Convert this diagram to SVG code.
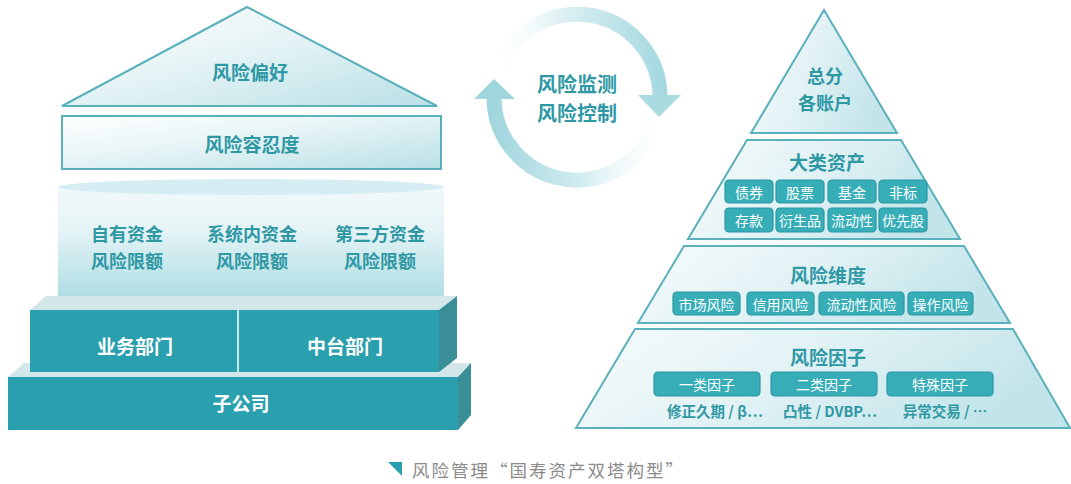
<svg xmlns="http://www.w3.org/2000/svg" width="1071" height="484" viewBox="0 0 1071 484">
<defs>
<linearGradient id="gLight" x1="0" y1="0" x2="1" y2="1">
<stop offset="0" stop-color="#ffffff"/>
<stop offset="0.45" stop-color="#e6f4f6"/>
<stop offset="1" stop-color="#b9e0e6"/>
</linearGradient>
<linearGradient id="gBand" x1="0" y1="0" x2="1" y2="0.3">
<stop offset="0" stop-color="#f6fbfc"/>
<stop offset="0.5" stop-color="#e2f2f5"/>
<stop offset="1" stop-color="#c3e5ea"/>
</linearGradient>
<linearGradient id="gCyl" x1="0" y1="0" x2="0" y2="1">
<stop offset="0" stop-color="#f1f9fa"/>
<stop offset="0.35" stop-color="#e6f4f6"/>
<stop offset="1" stop-color="#a9dbe2"/>
</linearGradient>
<linearGradient id="gArcTop" gradientUnits="userSpaceOnUse" x1="495" y1="60" x2="665" y2="60">
<stop offset="0" stop-color="#ffffff" stop-opacity="0.2"/>
<stop offset="0.4" stop-color="#dcf0f3"/>
<stop offset="1" stop-color="#a3d8df"/>
</linearGradient>
<linearGradient id="gArcBot" gradientUnits="userSpaceOnUse" x1="660" y1="140" x2="490" y2="140">
<stop offset="0" stop-color="#ffffff" stop-opacity="0.3"/>
<stop offset="0.45" stop-color="#d3edf1"/>
<stop offset="1" stop-color="#9fd5dc"/>
</linearGradient>
<style>
.cjk{font-family:'Noto Sans CJK SC','Noto Sans',sans-serif;}
.title{font-size:19px;font-weight:700;fill:#2f98a5;text-anchor:middle;dominant-baseline:central;}
.two{font-size:18px;}
.wt{font-size:19px;font-weight:700;fill:#ffffff;text-anchor:middle;dominant-baseline:central;}
.pill{fill:#37adb8;stroke:#2a97a3;stroke-width:1.2;}
.pt{font-size:14px;fill:#ffffff;text-anchor:middle;dominant-baseline:central;}
.sub{font-size:14.5px;font-weight:700;fill:#2f98a5;text-anchor:middle;dominant-baseline:central;}
.edge{stroke:#5ab0bc;stroke-width:2;}
.front{fill:#2a9fae;}
.topf{fill:#d3e7eb;}
.side{fill:#3a8e98;}
</style>
</defs>
<rect width="1071" height="484" fill="#ffffff"/>

<!-- Left building -->
<g id="roof">
<polygon points="247,7 62,106 437,106" fill="url(#gLight)" class="edge"/>
<text x="250" y="71" class="cjk title">风险偏好</text>
</g>
<g id="tolerance">
<rect x="62" y="116" width="379" height="53" fill="url(#gLight)" class="edge"/>
<text x="252" y="143" class="cjk title">风险容忍度</text>
</g>
<g id="cylinder">
<path d="M58,187 L58,296 A193,8 0 0 0 444,296 L444,187 Z" fill="url(#gCyl)"/>
<ellipse cx="251" cy="187" rx="193" ry="8" fill="#d6eef3"/>
<text x="127" y="233" class="cjk title two">自有资金</text>
<text x="127" y="260" class="cjk title two">风险限额</text>
<text x="252" y="233" class="cjk title two">系统内资金</text>
<text x="252" y="260" class="cjk title two">风险限额</text>
<text x="380" y="233" class="cjk title two">第三方资金</text>
<text x="380" y="260" class="cjk title two">风险限额</text>
</g>
<g id="subsidiary">
<polygon points="8,377 24,363 471,363 458,377" class="topf"/>
<polygon points="458,377 471,363 471,415 458,430" class="side"/>
<rect x="8" y="377" width="450" height="53" class="front"/>
<text x="241" y="402" class="cjk wt">子公司</text>
</g>
<g id="departments">
<polygon points="30,310 46,296 457,296 439,310" class="topf"/>
<polygon points="439,310 457,296 457,358 439,372" class="side"/>
<rect x="30" y="310" width="409" height="62" class="front"/>
<line x1="238" y1="310" x2="238" y2="372" stroke="#ffffff" stroke-width="1.5"/>
<text x="135" y="345" class="cjk wt">业务部门</text>
<text x="345" y="345" class="cjk wt">中台部门</text>
</g>

<!-- Cycle -->
<g id="cycle">
<path d="M495.3,82.6 A83,83 0 0 1 660,97" fill="none" stroke="url(#gArcTop)" stroke-width="15"/>
<path d="M657.2,118.5 A83,83 0 0 1 494,97" fill="none" stroke="url(#gArcBot)" stroke-width="15"/>
<polygon points="638,95 681,95 659,117" fill="#aadbe1"/>
<polygon points="474,99 515,99 494,79" fill="#9fd5dc"/>
<text x="577" y="83" class="cjk title" style="font-size:20px">风险监测</text>
<text x="577" y="112" class="cjk title" style="font-size:20px">风险控制</text>
</g>

<!-- Right pyramid -->
<g id="band-accounts">
<polygon points="824,10 897,133 751,133" fill="url(#gBand)" class="edge"/>
<text x="825" y="75" class="cjk title two">总分</text>
<text x="825" y="102" class="cjk title two">各账户</text>
</g>
<g id="band-assets">
<polygon points="747,140 901,140 960,239 688,239" fill="url(#gBand)" class="edge"/>
<text x="827" y="161" class="cjk title">大类资产</text>
<rect x="725" y="180" width="48" height="23" rx="4" class="pill"/>
<rect x="776" y="180" width="48" height="23" rx="4" class="pill"/>
<rect x="828" y="180" width="48" height="23" rx="4" class="pill"/>
<rect x="879" y="180" width="48" height="23" rx="4" class="pill"/>
<rect x="725" y="208" width="48" height="24" rx="4" class="pill"/>
<rect x="776" y="208" width="48" height="24" rx="4" class="pill"/>
<rect x="828" y="208" width="48" height="24" rx="4" class="pill"/>
<rect x="879" y="208" width="48" height="24" rx="4" class="pill"/>
<text x="749" y="191.5" class="cjk pt">债券</text>
<text x="800" y="191.5" class="cjk pt">股票</text>
<text x="852" y="191.5" class="cjk pt">基金</text>
<text x="903" y="191.5" class="cjk pt">非标</text>
<text x="749" y="220" class="cjk pt">存款</text>
<text x="800" y="220" class="cjk pt">衍生品</text>
<text x="852" y="220" class="cjk pt">流动性</text>
<text x="903" y="220" class="cjk pt">优先股</text>
</g>
<g id="band-dimensions">
<polygon points="684,246 964,246 1010,323 638,323" fill="url(#gBand)" class="edge"/>
<text x="828" y="274" class="cjk title">风险维度</text>
<rect x="673" y="292" width="67" height="23" rx="4" class="pill"/>
<rect x="747" y="292" width="67" height="23" rx="4" class="pill"/>
<rect x="819" y="292" width="85" height="23" rx="4" class="pill"/>
<rect x="908" y="292" width="65" height="23" rx="4" class="pill"/>
<text x="706.5" y="303.5" class="cjk pt">市场风险</text>
<text x="780.5" y="303.5" class="cjk pt">信用风险</text>
<text x="861.5" y="303.5" class="cjk pt">流动性风险</text>
<text x="940.5" y="303.5" class="cjk pt">操作风险</text>
</g>
<g id="band-factors">
<polygon points="635,329 1013,329 1070,428 576,428" fill="url(#gBand)" class="edge"/>
<text x="828" y="356" class="cjk title">风险因子</text>
<rect x="654" y="372" width="106" height="24" rx="4" class="pill"/>
<rect x="771" y="372" width="106" height="24" rx="4" class="pill"/>
<rect x="887" y="372" width="106" height="24" rx="4" class="pill"/>
<text x="707" y="384" class="cjk pt">一类因子</text>
<text x="824" y="384" class="cjk pt">二类因子</text>
<text x="940" y="384" class="cjk pt">特殊因子</text>
<text x="715" y="410" class="cjk sub">修正久期 / β…</text>
<text x="830" y="410" class="cjk sub">凸性 / DVBP…</text>
<text x="945" y="410" class="cjk sub">异常交易 / …</text>
</g>

<!-- Caption -->
<g id="caption">
<polygon points="388,462 402,462 402,476" fill="#2a9fae"/>
<text x="412" y="469" class="cjk" style="font-size:17.5px;letter-spacing:2px;fill:#8a8a8a;dominant-baseline:central">风险管理“国寿资产双塔构型”</text>
</g>
</svg>
